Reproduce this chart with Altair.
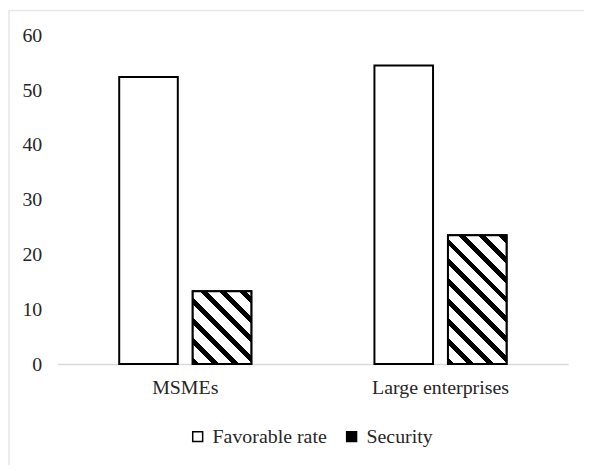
import altair as alt
import pandas as pd

categories = ["MSMEs", "Large enterprises"]
series = ["Favorable rate", "Security"]
favorable = [52.4, 54.5]
security = [13.3, 23.5]

rows = []
for i, c in enumerate(categories):
    rows.append({"category": c, "series": series[0], "value": favorable[i]})
    rows.append({"category": c, "series": series[1], "value": security[i]})
df = pd.DataFrame(rows)

FONT = "Liberation Serif"
TXT = "#262626"
PLOT_W, PLOT_H = 514, 331
Y_MAX = 60
BAR_W = 59


def hatch(value):
    """Diagonal stripes (\\ direction) as a hard-stop linear gradient."""
    W = BAR_W
    H = value / Y_MAX * PLOT_H
    s = (W + H) / (W * W + H * H)
    P, B = 20.0, 7.0
    total = W + H
    stops = []
    k = 0.0
    while k < total:
        a, b, c = k / total, min((k + B) / total, 1.0), min((k + P) / total, 1.0)
        stops += [
            {"offset": a, "color": "black"},
            {"offset": b, "color": "black"},
            {"offset": b, "color": "white"},
            {"offset": c, "color": "white"},
        ]
        k += P
    return {"gradient": "linear", "x1": 0, "y1": 1, "x2": s * W, "y2": 1 - s * H, "stops": stops}


x_enc = alt.X(
    "category:N",
    sort=categories,
    scale=alt.Scale(domain=categories, paddingInner=0.4824, paddingOuter=0.2412),
    axis=alt.Axis(
        title=None, ticks=False, labelAngle=0, labelFont=FONT, labelFontSize=20,
        labelColor=TXT, labelPadding=14, domainColor="#d9d9d9", domainWidth=1.5, zindex=0,
    ),
)
xo_enc = alt.XOffset("series:N", sort=series, scale=alt.Scale(domain=series, paddingInner=0.203))
y_enc = alt.Y(
    "value:Q",
    scale=alt.Scale(domain=[0, Y_MAX], nice=False),
    axis=alt.Axis(
        title=None, values=[0, 10, 20, 30, 40, 50, 60], grid=False, domain=False, ticks=False,
        labelFont=FONT, labelFontSize=20, labelColor=TXT, labelPadding=16, zindex=1,
    ),
)

border = alt.Chart(pd.DataFrame({"a": [0]})).mark_rect(
    fillOpacity=0, stroke="#e6e6e6", strokeWidth=1.5
).encode(x=alt.value(-49), x2=alt.value(700), y=alt.value(-25), y2=alt.value(700))

bars = alt.Chart(df).mark_bar(stroke="black", strokeWidth=2).encode(
    x=x_enc,
    xOffset=xo_enc,
    y=y_enc,
    fill=alt.Fill(
        "series:N",
        sort=series,
        scale=alt.Scale(domain=series, range=["white", "black"]),
        legend=alt.Legend(
            title=None, orient="none", legendX=131, legendY=394, direction="horizontal",
            symbolType="square", symbolSize=100, symbolStrokeColor="black", symbolStrokeWidth=1.5,
            labelFont=FONT, labelFontSize=20, labelColor=TXT, labelOffset=5,
            columnPadding=15, padding=0,
        ),
    ),
)

hatch_layers = []
for i, c in enumerate(categories):
    hatch_layers.append(
        alt.Chart(df)
        .transform_filter((alt.datum.category == c) & (alt.datum.series == series[1]))
        .mark_bar(stroke="black", strokeWidth=2, fill=hatch(security[i]))
        .encode(x=x_enc, xOffset=xo_enc, y=y_enc)
    )

chart = (
    alt.layer(border, bars, *hatch_layers)
    .properties(
        width=PLOT_W,
        height=PLOT_H,
        autosize=alt.AutoSizeParams(type="none"),
        padding={"left": 50, "top": 26, "right": 16, "bottom": 100},
    )
    .configure(font=FONT)
    .configure_view(stroke=None)
    .configure_legend(labelFont=FONT, labelFontSize=20, labelColor=TXT)
    .configure_axis(labelFont=FONT)
)

chart.save("out.html", embed_options={"renderer": "svg", "actions": False})
